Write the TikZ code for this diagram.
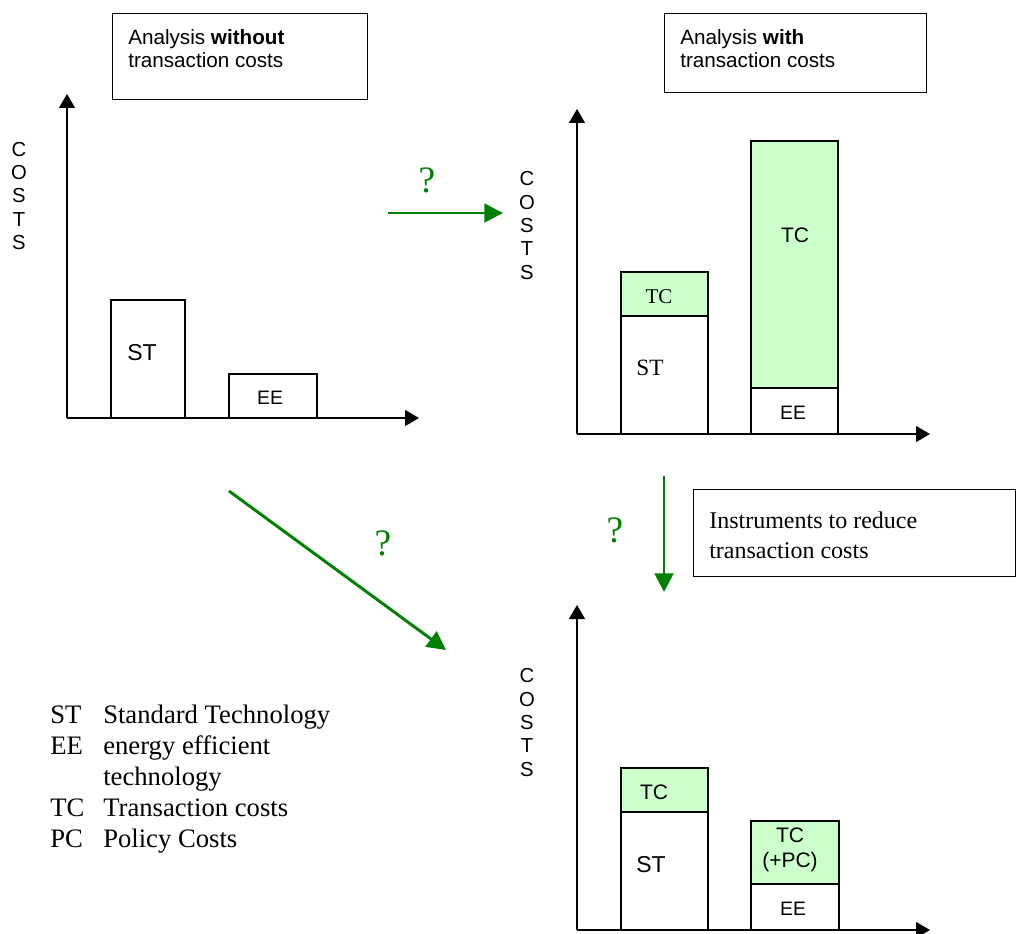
\documentclass[tikz,border=0pt]{standalone}
\usepackage{fontspec}
\setmainfont{Liberation Serif}
\setsansfont{Liberation Sans}
\usetikzlibrary{arrows.meta}
\definecolor{dgreen}{HTML}{008000}
\definecolor{lgreen}{HTML}{CCFFCC}
\begin{document}
\begin{tikzpicture}[x=0.75pt,y=-0.75pt,
  axisline/.style={line width=1pt, -{Triangle[length=10.5pt,width=12pt]}},
  garrow/.style={dgreen, line width=2.2pt, -{Triangle[length=14pt,width=14pt]}},
  boxshape/.style={draw, line width=1pt, inner sep=0pt, anchor=north west},
  barbox/.style={draw, line width=1pt},
  tcbar/.style={barbox, fill=lgreen},
  titletext/.style={font=\sffamily\fontsize{15.5}{17.25}\selectfont, align=left, inner sep=0pt, anchor=north west},
  costs/.style={font=\sffamily\fontsize{15.2}{17.6}\selectfont, align=center, inner sep=0pt},
  sbig/.style={font=\sffamily\fontsize{17.25}{20}\selectfont, inner sep=0pt},
  smid/.style={font=\sffamily\fontsize{15.75}{18.75}\selectfont, inner sep=0pt, align=center},
  ssmall/.style={font=\sffamily\fontsize{14.6}{17}\selectfont, inner sep=0pt},
  rmid/.style={font=\rmfamily\fontsize{15.75}{18}\selectfont, inner sep=0pt},
  rbig/.style={font=\rmfamily\fontsize{17.5}{20}\selectfont, inner sep=0pt},
  qmark/.style={font=\rmfamily\fontsize{28}{30}\selectfont, text=dgreen, inner sep=0pt}
]
\useasboundingbox (0,0) rectangle (1016,934);

% ---------- title boxes ----------
\node[boxshape, minimum width=191.25pt, minimum height=64.5pt] (boxA) at (112,13) {};
\node[titletext] (txtA) at (128,29) {Analysis \textbf{without}\\transaction costs};
\node[boxshape, minimum width=196.5pt, minimum height=59.25pt] (boxB) at (664,13) {};
\node[titletext] (txtB) at (680,29) {Analysis \textbf{with}\\transaction costs};
\node[boxshape, minimum width=241.5pt, minimum height=65.25pt] (boxC) at (693,489) {};
\node[font=\rmfamily\fontsize{18}{22.5}\selectfont, align=left, inner sep=0pt, anchor=north west] (txtC) at (709,512) {Instruments to reduce\\transaction costs};

% ---------- top-left chart ----------
\coordinate (o1) at (67,418);
\coordinate (y1) at (67,94);
\coordinate (x1) at (419,418);
\draw[barbox] (111,300) rectangle (185,418);
\draw[barbox] (229,374) rectangle (317,418);
\draw[axisline] (o1) -- (y1);
\draw[axisline] (o1) -- (x1);
\node[costs] (c1) at (19,196) {C\\O\\S\\T\\S};
\node[sbig] (st1) at (142,353) {ST};
\node[ssmall] (ee1) at (270,398) {EE};

% ---------- top-right chart ----------
\coordinate (o2) at (577,434);
\coordinate (y2) at (577,109);
\coordinate (x2) at (930,434);
\draw[tcbar] (621,272) rectangle (708,316);
\draw[barbox] (621,316) rectangle (708,434);
\draw[tcbar] (751,141) rectangle (838,388);
\draw[barbox] (751,388) rectangle (838,434);
\draw[axisline] (o2) -- (y2);
\draw[axisline] (o2) -- (x2);
\node[costs] (c2) at (527,225.5) {C\\O\\S\\T\\S};
\node[rmid] (tc2a) at (659,297) {TC};
\node[rbig] (st2) at (650,368) {ST};
\node[smid] (tc2b) at (795,235) {TC};
\node[ssmall] (ee2) at (793,413) {EE};

% ---------- bottom-right chart ----------
\coordinate (o3) at (577,930);
\coordinate (y3) at (577,605);
\coordinate (x3) at (930,930);
\draw[tcbar] (621,768) rectangle (708,812);
\draw[barbox] (621,812) rectangle (708,930);
\draw[tcbar] (751,821) rectangle (839,884);
\draw[barbox] (751,884) rectangle (839,930);
\draw[axisline] (o3) -- (y3);
\draw[axisline] (o3) -- (x3);
\node[costs] (c3) at (527,722.5) {C\\O\\S\\T\\S};
\node[smid] (tc3a) at (654,792) {TC};
\node[sbig] (st3) at (651,865) {ST};
\node[smid] (tc3b) at (790,849.5) {TC\\(+PC)};
\node[ssmall] (ee3) at (793,909) {EE};

% ---------- green arrows ----------
\coordinate (h1) at (388,213);
\coordinate (h2) at (503,213);
\coordinate (v1) at (664,476);
\coordinate (v2) at (664,592);
\coordinate (d1) at (229,491);
\coordinate (d2) at (446,650);
\draw[garrow] (h1) -- (h2);
\draw[garrow] (v1) -- (v2);
\draw[garrow] (d1) -- (d2);
\node[qmark] (q1) at (427,180) {?};
\node[qmark] (q2) at (615,530) {?};
\node[qmark] (q3) at (383,543) {?};

% ---------- legend ----------
\node[font=\rmfamily\fontsize{20}{23.25}\selectfont, inner sep=0pt, anchor=base west] (legend) at (50,723)
 {\begin{tabular}[t]{@{}p{39.75pt}@{}l@{}}
  ST & Standard Technology\\
  EE & energy efficient\\
     & technology\\
  TC & Transaction costs\\
  PC & Policy Costs
 \end{tabular}};
\end{tikzpicture}
\end{document}
